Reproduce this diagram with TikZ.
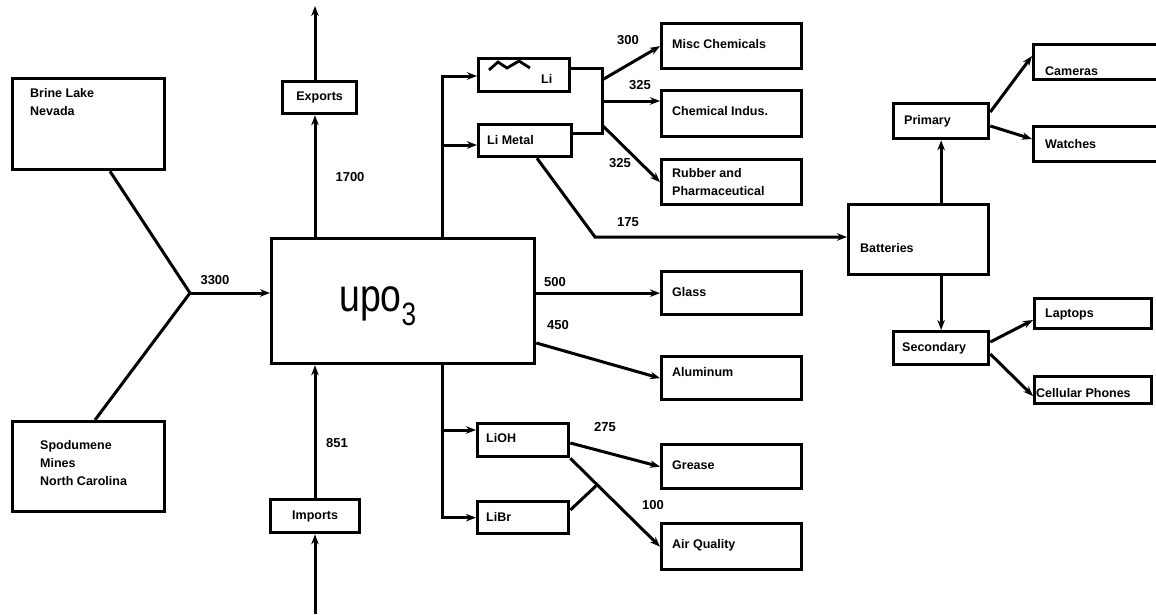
\documentclass[tikz,border=0pt]{standalone}
\usepackage{fontspec}
\setmainfont{Liberation Sans}
\usetikzlibrary{arrows.meta,calc}
\begin{document}
\begin{tikzpicture}[x=1pt,y=-1pt,
  box/.style={draw,line width=3.3pt,anchor=north west,inner sep=0pt},
  lab/.style={anchor=west,inner sep=0pt,font=\fontsize{12.5}{15}\selectfont\bfseries},
  mlab/.style={anchor=north west,inner sep=0pt,align=left,font=\fontsize{12.5}{18}\selectfont\bfseries},
  num/.style={inner sep=0pt,font=\fontsize{13}{14}\selectfont\bfseries},
  ln/.style={line width=3pt,line join=miter},
  ar/.style={ln,-{Stealth[length=10pt,width=7.5pt]}}]
\useasboundingbox (0,0) rectangle (1156,614);
\newcommand\bx[5]{\node[box,minimum width=#4pt,minimum height=#5pt] (#1) at (#2,#3) {};}
% boxes
\bx{main}{270}{237}{263}{125}
\bx{brine}{11}{77}{152}{91}
\bx{spod}{11}{420}{152}{90}
\bx{exports}{281}{80}{74}{32}
\bx{imports}{269}{498}{89}{33}
\bx{li}{477}{57}{91}{33}
\bx{limetal}{477}{123}{93}{32}
\bx{misc}{660}{22}{140}{45}
\bx{chemind}{660}{89}{140}{46}
\bx{rubber}{660}{158}{140}{45}
\bx{glass}{660}{270}{140}{43}
\bx{alum}{660}{355}{140}{43}
\bx{grease}{660}{443}{140}{44}
\bx{airq}{660}{522}{140}{46}
\bx{lioh}{476}{422}{91}{33}
\bx{libr}{476}{500}{91}{32}
\bx{batt}{847}{203}{140}{70}
\bx{primary}{892}{102}{95}{35}
\bx{secondary}{892}{330}{95}{33}
\bx{cameras}{1032}{43}{150}{35}
\bx{watches}{1032}{125}{150}{35}
\bx{laptops}{1033}{297}{117}{30}
\bx{cell}{1033}{375}{117}{27}
% texts
\node[inner sep=0pt] (upo) at (378,306) {\scalebox{0.85}[1.05]{\fontsize{44}{44}\selectfont upo\textsubscript{3}}};
\node[mlab] (tbrine) at (30,88) {Brine Lake\\Nevada};
\node[mlab] (tspod) at (40,440) {Spodumene\\Mines\\North Carolina};
\node[lab,anchor=center] (texp) at (exports.center) {Exports};
\node[lab,anchor=center] (timp) at (imports.center) {Imports};
\draw[line width=2.8pt] (489,70) -- (498,62) -- (507,68) -- (519,61) -- (530,68);
\node[lab] (tli) at (541,79) {Li};
\node[lab] (tlim) at (487,140) {Li Metal};
\node[lab] (tmisc) at (672,44) {Misc Chemicals};
\node[lab] (tchem) at (672,111) {Chemical Indus.};
\node[mlab] (trub) at (672,168) {Rubber and\\Pharmaceutical};
\node[lab] (tglass) at (672,292) {Glass};
\node[lab] (talum) at (672,372) {Aluminum};
\node[lab] (tgrease) at (672,465) {Grease};
\node[lab] (tairq) at (672,545) {Air Quality};
\node[lab] (tlioh) at (486,438) {LiOH};
\node[lab] (tlibr) at (486,517) {LiBr};
\node[lab] (tbatt) at (860,248) {Batteries};
\node[lab] (tprim) at (904,121) {Primary};
\node[lab] (tsec) at (902,348) {Secondary};
\node[lab] (tcam) at (1045,71) {Cameras};
\node[lab] (twat) at (1045,144) {Watches};
\node[lab] (tlap) at (1045,314) {Laptops};
\node[lab] (tcell) at (1036,393) {Cellular Phones};
% numbers
\node[num] (n3300) at (215,280) {3300};
\node[num] (n1700) at (350,177) {1700};
\node[num] (n851) at (337,443) {851};
\node[num] (n300) at (628,40) {300};
\node[num] (n325a) at (640,85) {325};
\node[num] (n325b) at (620,163) {325};
\node[num] (n175) at (628,222) {175};
\node[num] (n500) at (555,282) {500};
\node[num] (n450) at (558,325) {450};
\node[num] (n275) at (605,427) {275};
\node[num] (n100) at (653,505) {100};
% coordinates
\coordinate (J) at (190,293);
\coordinate (top) at (315,6);
\coordinate (bot) at (315,614);
\coordinate (b1) at (442,145);
\coordinate (br1) at (602,68);
\coordinate (br2) at (602,133);
\coordinate (o1) at (602,80);
\coordinate (o2) at (602,101);
\coordinate (o3) at (602,125);
\coordinate (k1) at (595,237);
\coordinate (b2) at (442,430);
\coordinate (m1) at (598,484);
% connectors
\draw[ln] (brine.south -| 110,0) -- (J);
\draw[ln] (spod.north -| 95,0) -- (J);
\draw[ar] (J) -- (main.west |- J);
\draw[ar] (main.north -| top) -- (exports.south -| top);
\draw[ar] (exports.north -| top) -- (top);
\draw[ar] (bot) -- (imports.south -| bot);
\draw[ar] (imports.north -| bot) -- (main.south -| bot);
\draw[ar] (main.north -| b1) |- (li.west |- 0,76);
\draw[ar] (b1) -- (limetal.west |- b1);
\draw[ln] (li.east |- br1) -- (br1) -- (br2) -- (limetal.east |- br2);
\draw[ar] (o1) -- (misc.west);
\draw[ar] (o2) -- (chemind.west |- o2);
\draw[ar] (o3) -- (rubber.west);
\draw[ar] (limetal.south -| 537,0) -- (k1) -- (batt.west |- k1);
\draw[ar] (batt.north -| primary.south) -- (primary.south);
\draw[ar] (batt.south -| secondary.north) -- (secondary.north);
\draw[ar] (primary.east |- 0,112) -- (cameras.west |- 0,56);
\draw[ar] (primary.east |- 0,126) -- (watches.west |- 0,139);
\draw[ar] (secondary.east |- 0,342) -- (laptops.west |- 0,320);
\draw[ar] (secondary.east |- 0,354) -- (cell.west |- 0,396);
\draw[ar] (main.east |- glass.west) -- (glass.west);
\draw[ar] (main.east |- 0,343) -- (alum.west);
\draw[ar] (main.south -| b1) |- (libr.west);
\draw[ar] (b2) -- (lioh.west |- b2);
\draw[ar] (lioh.east |- 0,443) -- (grease.west);
\draw[ar] (lioh.south east) -- (airq.west);
\draw[ln] (libr.east |- 0,510) -- (m1);
\end{tikzpicture}
\end{document}
